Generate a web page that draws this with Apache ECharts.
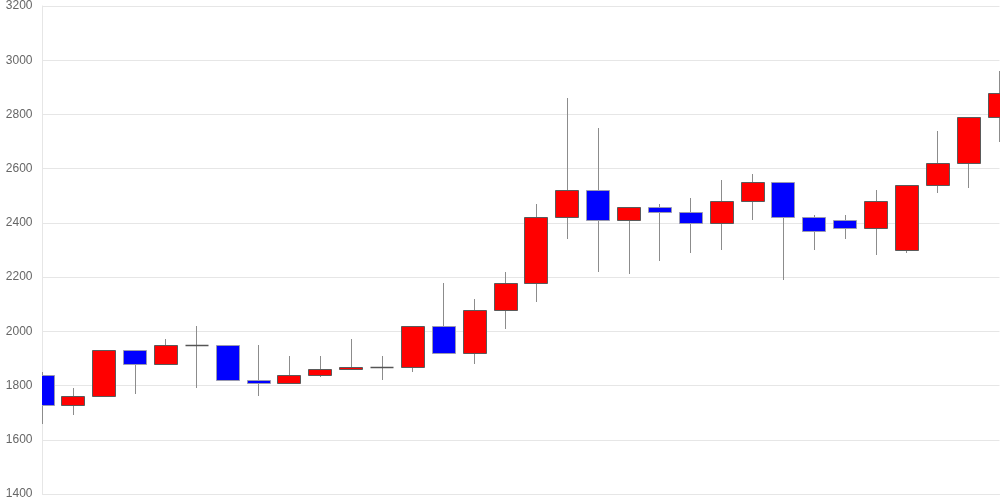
<!DOCTYPE html>
<html>
<head>
<meta charset="utf-8">
<script src="https://cdn.jsdelivr.net/npm/echarts@6/dist/echarts.min.js"></script>
<style>html,body{margin:0;padding:0;background:#fff}#c{width:1000px;height:500px}</style>
</head>
<body>
<div id="c"></div>
<script>
const categories = ['1','2','3','4','5','6','7','8','9','10','11','12','13','14','15','16','17','18','19','20','21','22','23','24','25','26','27','28','29','30','31','32'];
const opens  = [1840,1730,1760,1930,1880,1950,1950,1820,1810,1840,1860,1870,1870,2020,1920,2080,2180,2420,2520,2410,2460,2440,2400,2480,2550,2420,2410,2380,2300,2540,2620,2790];
const closes = [1730,1760,1930,1880,1950,1950,1820,1810,1840,1860,1870,1870,2020,1920,2080,2180,2420,2520,2410,2460,2440,2400,2480,2550,2420,2370,2380,2480,2540,2620,2790,2880];
const lows   = [1660,1690,1760,1770,1880,1790,1820,1760,1810,1830,1860,1820,1850,1920,1880,2010,2110,2340,2220,2210,2260,2290,2300,2410,2190,2300,2340,2280,2290,2510,2530,2700];
const highs  = [1850,1790,1930,1930,1970,2020,1950,1950,1910,1910,1970,1910,2020,2180,2120,2220,2470,2860,2750,2460,2470,2490,2560,2580,2550,2430,2430,2520,2540,2740,2790,2960];
const yTicks = {min:1400, max:3200, step:200};

const data = categories.map((c,i)=>[i, opens[i], closes[i], lows[i], highs[i]]);
const chart = echarts.init(document.getElementById('c'), null, {renderer:'canvas'});

function renderItem(params, api){
  const cs = params.coordSys;
  const idx = api.value(0), o = api.value(1), c = api.value(2), l = api.value(3), h = api.value(4);
  const pO = api.coord([idx, o]), pC = api.coord([idx, c]);
  const pL = api.coord([idx, l]), pH = api.coord([idx, h]);
  const w = Math.round(api.size([1, 0])[0] * 0.76);
  const cx = Math.floor(pO[0]) + 0.5;
  const children = [];
  children.push({type:'line', shape:{x1:cx, y1:Math.round(pH[1]), x2:cx, y2:Math.round(pL[1])},
    style:{stroke:'#8c8c8c', lineWidth:1}});
  const x0 = Math.floor(pO[0] - w/2) + 0.5;
  if (o === c) {
    const y = Math.round(pO[1]) + 0.5;
    children.push({type:'line', shape:{x1:x0, y1:y, x2:x0 + w, y2:y}, style:{stroke:'#555', lineWidth:1.5}});
  } else {
    const up = c > o;
    const yTop = Math.round(Math.min(pO[1], pC[1])) + 0.5;
    const yBot = Math.round(Math.max(pO[1], pC[1])) + 0.5;
    children.push({type:'rect', shape:{x:x0, y:yTop, width:w, height:yBot - yTop},
      style:{fill: up ? '#ff0000' : '#0000ff', stroke: up ? '#5a5a5a' : '#9a9ab0', lineWidth:1}});
  }
  const left = Math.floor(cs.x), right = Math.ceil(cs.x + cs.width);
  return {type:'group',
    clipPath:{type:'rect', shape:{x:left, y:cs.y - 2, width:right - left, height:cs.height + 4}},
    children};
}

chart.setOption({
  animation:false,
  backgroundColor:'#fff',
  grid:{left:42.5, right:0.5, top:5, bottom:6, containLabel:false},
  xAxis:{
    type:'category', data:categories, boundaryGap:false,
    axisLabel:{show:false}, axisTick:{show:false},
    axisLine:{show:true, lineStyle:{color:'#e6e6e6'}},
    splitLine:{show:false}
  },
  yAxis:{
    type:'value', min:yTicks.min, max:yTicks.max, interval:yTicks.step,
    axisLine:{show:true, lineStyle:{color:'#e6e6e6'}},
    axisTick:{show:false},
    axisLabel:{color:'#666', fontSize:12, fontFamily:'Liberation Sans, Arial, sans-serif', margin:10,
      formatter:function(v){return String(v);}},
    splitLine:{lineStyle:{color:'#e6e6e6'}}
  },
  series:[{
    type:'custom',
    data:data,
    clip:false,
    encode:{x:0, y:[1,2,3,4]},
    renderItem:renderItem
  }]
});
</script>
</body>
</html>
